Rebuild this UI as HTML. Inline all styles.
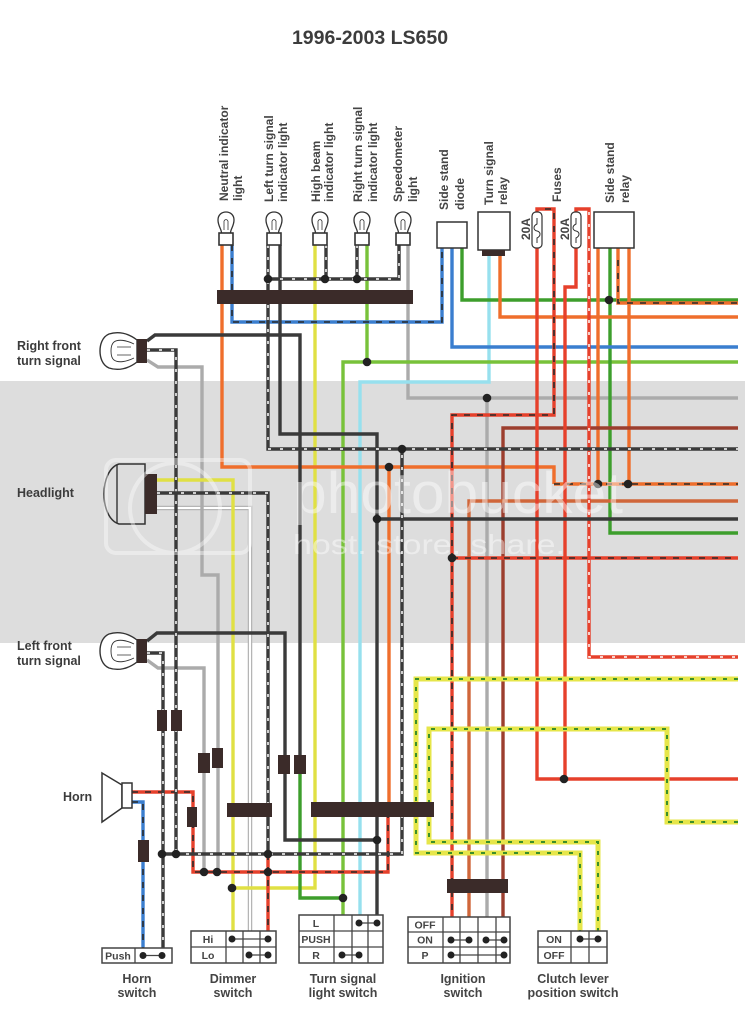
<!DOCTYPE html>
<html><head><meta charset="utf-8">
<style>
html,body{margin:0;padding:0;background:#fff;}
svg{display:block;}
.w{fill:none;stroke-width:3.4;stroke-linejoin:miter;stroke-linecap:butt}
.k{stroke:#3a3a3a}
.o{stroke:#ef6e2c}
.r{stroke:#e6402b}
.bn{stroke:#9c3e2e}
.bo{stroke:#d0663a}
.g{stroke:#ababab}
.bl{stroke:#3a7ecf}
.gn{stroke:#3d9e2c}
.yg{stroke:#78c23a}
.lb{stroke:#97e0ee}
.y{stroke:#e0e044}
.yy{fill:none;stroke:#e6e64a;stroke-width:5}
.dw{fill:none;stroke:#fff;stroke-width:1.5;stroke-dasharray:3 9}
.dk{fill:none;stroke:#2a2a2a;stroke-width:1.6;stroke-dasharray:6 7}
.dgn{fill:none;stroke:#3b8f2a;stroke-width:2;stroke-dasharray:4 7}
.t{font-family:"Liberation Sans",Arial,sans-serif;font-weight:bold;fill:#3c3c3c}
.tr{font-family:"Liberation Sans",Arial,sans-serif;font-weight:bold;fill:#444;font-size:12px}
.c{fill:#3b2b29}
.d{fill:#222}
.sw{fill:#fff;stroke:#444;stroke-width:1.5}
.ln{stroke:#444;stroke-width:1.3;fill:none}
.st{font-family:"Liberation Sans",Arial,sans-serif;font-weight:bold;fill:#444;font-size:10.5px;text-anchor:middle}
.bt{font-family:"Liberation Sans",Arial,sans-serif;font-weight:bold;fill:#444;font-size:12.5px;text-anchor:middle}
</style></head><body>
<svg width="745" height="1023" viewBox="0 0 745 1023" xmlns="http://www.w3.org/2000/svg">
<rect width="745" height="1023" fill="#fff"/>
<rect x="0" y="381" width="745" height="262" fill="#dddddd"/>

<!-- Title -->
<text x="370" y="44" text-anchor="middle" font-size="19.5" class="t" fill="#333">1996-2003 LS650</text>

<!-- ===== WIRES ===== -->
<!-- white wire -->
<polyline points="157,508 250,508 250,931" fill="none" stroke="#b5b5b5" stroke-width="4.5"/>
<polyline points="157,508 250,508 250,931" fill="none" stroke="#fff" stroke-width="2"/>

<!-- gray -->
<polyline class="w g" points="408,245 408,398 738,398"/>
<polyline class="w g" points="487,398 487,917"/>
<polyline class="w g" points="147,360 158,367 202,367 202,575 218,575 218,872"/>
<polyline class="w g" points="147,660 158,668 204,668 204,872"/>

<!-- light blue -->
<polyline class="w lb" points="489,256 489,382 360,382 360,915"/>

<!-- yellow -->
<polyline class="w y" points="315,245 315,888 232,888"/>
<polyline class="w y" points="157,480 233,480 233,931"/>

<!-- yellow-green -->
<polyline class="w yg" points="367,245 367,362"/>
<polyline class="w yg" points="343,915 343,362 738,362"/>

<!-- green -->
<polyline class="w gn" points="462,248 462,300 738,300"/>
<polyline class="w gn" points="610,248 610,533 738,533"/>
<polyline class="w gn" points="300,774 300,898 343,898"/>

<!-- blue -->
<polyline class="w bl" points="452,248 452,347 738,347"/>
<polyline class="w bl" points="232,245 232,322 442,322 442,248"/>
<polyline class="dk" points="232,245 232,322 442,322 442,248"/>
<polyline class="w bl" points="132,802 143,802 143,948"/>
<polyline class="dk" points="132,802 143,802 143,948"/>

<!-- orange -->
<polyline class="w o" points="222,245 222,467 554,467 554,484"/>
<polyline class="w o" points="554,484 738,484"/>
<polyline class="dk" points="554,484 738,484"/>
<polyline class="w o" points="500,256 500,317 738,317"/>
<polyline class="w o" points="598,248 598,484"/>
<polyline class="w o" points="629,248 629,484"/>
<polyline class="w o" points="389,467 389,803"/>
<polyline class="w o" points="618,248 618,303 738,303"/>
<polyline class="dk" points="618,260 618,303 738,303"/>

<!-- brown / brown-orange -->
<polyline class="w bn" points="503,917 503,428 738,428"/>
<polyline class="w bo" points="469,917 469,501 738,501"/>

<!-- red -->
<polyline class="w r" points="537,248 537,779 738,779"/>
<polyline class="w r" points="576,248 576,287 565,287 565,779"/>
<polyline class="w r" points="537,213 537,209 554,209 554,415 452,415 452,917"/>
<polyline class="dk" points="545,209 554,209 554,415 452,415 452,917"/>
<polyline class="w r" points="452,558 738,558"/>
<polyline class="dk" points="452,558 738,558"/>
<polyline class="w r" points="132,792 193,792 193,872 388,872 388,817"/>
<polyline class="dk" points="132,792 193,792 193,872 388,872 388,817"/>
<polyline class="w r" points="268,854 268,931"/>
<polyline class="dk" points="268,854 268,931"/>
<polyline class="w r" points="576,213 576,209 589,209 589,657 738,657"/>
<polyline class="dw" points="589,212 589,657 738,657"/>

<!-- black -->
<polyline class="w k" points="280,245 280,434 377,434 377,915"/>
<polyline class="w k" points="377,519 738,519"/>
<polyline class="w k" points="147,341 155,335 300,335 300,774"/>
<polyline class="w k" points="147,641 157,633 285,633 285,840 377,840"/>

<!-- black-white dashed -->
<polyline class="w k" points="268,245 268,449 738,449"/>
<polyline class="dw" points="268,245 268,449 738,449"/>
<polyline class="w k" points="268,279 399,279 399,245"/>
<polyline class="dw" points="268,279 399,279 399,245"/>
<polyline class="w k" points="326,245 326,279"/>
<polyline class="w k" points="357,245 357,279"/>
<polyline class="dw" points="326,245 326,279"/>
<polyline class="dw" points="357,245 357,279"/>
<polyline class="w k" points="147,350 176,350 176,854"/>
<polyline class="dw" points="147,350 176,350 176,854"/>
<polyline class="w k" points="157,493 268,493 268,854"/>
<polyline class="dw" points="157,493 268,493 268,854"/>
<polyline class="w k" points="147,653 163,653 163,948"/>
<polyline class="dw" points="147,653 163,653 163,948"/>
<polyline class="w k" points="162,854 402,854 402,449"/>
<polyline class="dw" points="162,854 402,854 402,449"/>

<!-- yellow / green dashed -->
<polyline class="yy" points="738,679 416,679 416,853 580,853 580,931"/>
<polyline class="dgn" points="738,679 416,679 416,853 580,853 580,931"/>
<polyline class="yy" points="738,822 667,822 667,729 429,729 429,842 598,842 598,931"/>
<polyline class="dgn" points="738,822 667,822 667,729 429,729 429,842 598,842 598,931"/>

<!-- ===== CONNECTORS ===== -->
<rect class="c" x="217" y="290" width="196" height="14"/>
<rect class="c" x="227" y="803" width="45" height="14"/>
<rect class="c" x="311" y="802" width="123" height="15"/>
<rect class="c" x="447" y="879" width="61" height="14"/>
<rect class="c" x="157" y="710" width="10" height="21"/>
<rect class="c" x="171" y="710" width="11" height="21"/>
<rect class="c" x="198" y="753" width="12" height="20"/>
<rect class="c" x="212" y="748" width="11" height="20"/>
<rect class="c" x="278" y="755" width="12" height="19"/>
<rect class="c" x="294" y="755" width="12" height="19"/>
<rect class="c" x="187" y="807" width="10" height="20"/>
<rect class="c" x="138" y="840" width="11" height="22"/>

<!-- ===== DOTS ===== -->
<g class="d">
<circle cx="268" cy="279" r="4.3"/><circle cx="325" cy="279" r="4.3"/><circle cx="357" cy="279" r="4.3"/>
<circle cx="367" cy="362" r="4.3"/><circle cx="487" cy="398" r="4.3"/><circle cx="402" cy="449" r="4.3"/>
<circle cx="389" cy="467" r="4.3"/><circle cx="377" cy="519" r="4.3"/><circle cx="452" cy="558" r="4.3"/>
<circle cx="609" cy="300" r="4.3"/><circle cx="598" cy="484" r="4.3"/><circle cx="628" cy="484" r="4.3"/>
<circle cx="564" cy="779" r="4.3"/><circle cx="162" cy="854" r="4.3"/><circle cx="176" cy="854" r="4.3"/>
<circle cx="268" cy="854" r="4.3"/><circle cx="204" cy="872" r="4.3"/><circle cx="217" cy="872" r="4.3"/>
<circle cx="268" cy="872" r="4.3"/><circle cx="232" cy="888" r="4.3"/><circle cx="343" cy="898" r="4.3"/>
<circle cx="377" cy="840" r="4.3"/>
</g>

<!-- ===== TOP BULBS ===== -->
<g fill="#fff" stroke="#333" stroke-width="1.3">
<g transform="translate(226,0)"><path d="M-4.5,233 C-4.5,229 -8,226 -8,220 C-8,215 -4.5,212 0,212 C4.5,212 8,215 8,220 C8,226 4.5,229 4.5,233"/><path d="M-2,230 L-2,221 M2,230 L2,221 M-2,221 Q0,218 2,221" fill="none" stroke-width="0.8"/><rect x="-7" y="233" width="14" height="12" stroke-width="1.6"/></g>
<g transform="translate(274,0)"><path d="M-4.5,233 C-4.5,229 -8,226 -8,220 C-8,215 -4.5,212 0,212 C4.5,212 8,215 8,220 C8,226 4.5,229 4.5,233"/><path d="M-2,230 L-2,221 M2,230 L2,221 M-2,221 Q0,218 2,221" fill="none" stroke-width="0.8"/><rect x="-7" y="233" width="14" height="12" stroke-width="1.6"/></g>
<g transform="translate(320,0)"><path d="M-4.5,233 C-4.5,229 -8,226 -8,220 C-8,215 -4.5,212 0,212 C4.5,212 8,215 8,220 C8,226 4.5,229 4.5,233"/><path d="M-2,230 L-2,221 M2,230 L2,221 M-2,221 Q0,218 2,221" fill="none" stroke-width="0.8"/><rect x="-7" y="233" width="14" height="12" stroke-width="1.6"/></g>
<g transform="translate(362,0)"><path d="M-4.5,233 C-4.5,229 -8,226 -8,220 C-8,215 -4.5,212 0,212 C4.5,212 8,215 8,220 C8,226 4.5,229 4.5,233"/><path d="M-2,230 L-2,221 M2,230 L2,221 M-2,221 Q0,218 2,221" fill="none" stroke-width="0.8"/><rect x="-7" y="233" width="14" height="12" stroke-width="1.6"/></g>
<g transform="translate(403,0)"><path d="M-4.5,233 C-4.5,229 -8,226 -8,220 C-8,215 -4.5,212 0,212 C4.5,212 8,215 8,220 C8,226 4.5,229 4.5,233"/><path d="M-2,230 L-2,221 M2,230 L2,221 M-2,221 Q0,218 2,221" fill="none" stroke-width="0.8"/><rect x="-7" y="233" width="14" height="12" stroke-width="1.6"/></g>
</g>

<!-- Diode, relays, fuses -->
<rect x="437" y="222" width="30" height="26" fill="#fff" stroke="#333" stroke-width="1.5"/>
<rect x="478" y="212" width="32" height="38" fill="#fff" stroke="#333" stroke-width="1.5"/>
<rect x="482" y="250" width="23" height="6" class="c"/>
<rect x="594" y="212" width="40" height="36" fill="#fff" stroke="#333" stroke-width="1.5"/>
<g fill="#fff" stroke="#333" stroke-width="1.2">
<rect x="532" y="212" width="10" height="36" rx="4"/>
<path d="M537,218 L537,224 C533,226 533,230 537,231 C541,232 541,236 537,238 L537,243" fill="none" stroke-width="1"/>
<rect x="571" y="212" width="10" height="36" rx="4"/>
<path d="M576,218 L576,224 C572,226 572,230 576,231 C580,232 580,236 576,238 L576,243" fill="none" stroke-width="1"/>
</g>

<!-- Side turn signals -->
<g stroke="#333" stroke-width="1.4" fill="#fff">
<path d="M137,340 C128,333 118,331 109,334 C102,337 100,345 100,351 C100,357 102,365 109,368 C118,371 128,369 137,362 Z"/>
<path d="M134,344 C126,340 118,339 114,342 C110,345 110,357 114,360 C118,363 126,362 134,358" fill="none" stroke-width="0.9"/>
<path d="M117,347 L131,347 M117,355 L131,355" fill="none" stroke-width="0.8"/>
<rect x="137" y="339" width="10" height="24" fill="#3b2b29" stroke="none"/>
<path d="M137,640 C128,633 118,631 109,634 C102,637 100,645 100,651 C100,657 102,665 109,668 C118,671 128,669 137,662 Z"/>
<path d="M134,644 C126,640 118,639 114,642 C110,645 110,657 114,660 C118,663 126,662 134,658" fill="none" stroke-width="0.9"/>
<path d="M117,647 L131,647 M117,655 L131,655" fill="none" stroke-width="0.8"/>
<rect x="137" y="639" width="10" height="24" fill="#3b2b29" stroke="none"/>
</g>

<!-- Headlight -->
<path d="M145,464 L119,464 C99,470 99,518 119,524 L145,524 Z" fill="none" stroke="#333" stroke-width="1.5"/>
<line x1="117" y1="465" x2="117" y2="523" stroke="#333" stroke-width="1.4"/>
<rect x="145" y="474" width="12" height="40" class="c"/>

<!-- Horn -->
<path d="M102,773 L122,785 L122,808 L102,822 Z" fill="#fff" stroke="#333" stroke-width="1.5"/>
<rect x="122" y="783" width="10" height="25" fill="#fff" stroke="#333" stroke-width="1.5"/>

<!-- ===== SWITCH TABLES ===== -->
<!-- Horn switch -->
<rect class="sw" x="102" y="948" width="70" height="15"/>
<line class="ln" x1="135" y1="948" x2="135" y2="963"/>
<text class="st" x="118" y="959.5">Push</text>
<line class="ln" x1="143" y1="955.5" x2="162" y2="955.5"/>
<circle class="d" cx="143" cy="955.5" r="3.5"/><circle class="d" cx="162" cy="955.5" r="3.5"/>

<!-- Dimmer -->
<rect class="sw" x="191" y="931" width="85" height="32"/>
<line class="ln" x1="191" y1="947" x2="276" y2="947"/>
<line class="ln" x1="226" y1="931" x2="226" y2="963"/>
<line class="ln" x1="243" y1="931" x2="243" y2="963"/>
<line class="ln" x1="260" y1="931" x2="260" y2="963"/>
<text class="st" x="208" y="943">Hi</text>
<text class="st" x="208" y="959">Lo</text>
<line class="ln" x1="232" y1="939" x2="268" y2="939"/>
<circle class="d" cx="232" cy="939" r="3.5"/><circle class="d" cx="268" cy="939" r="3.5"/>
<line class="ln" x1="249" y1="955" x2="268" y2="955"/>
<circle class="d" cx="249" cy="955" r="3.5"/><circle class="d" cx="268" cy="955" r="3.5"/>

<!-- Turn signal switch -->
<rect class="sw" x="299" y="915" width="84" height="48"/>
<line class="ln" x1="299" y1="931" x2="383" y2="931"/>
<line class="ln" x1="299" y1="947" x2="383" y2="947"/>
<line class="ln" x1="334" y1="915" x2="334" y2="963"/>
<line class="ln" x1="352" y1="915" x2="352" y2="963"/>
<line class="ln" x1="368" y1="915" x2="368" y2="963"/>
<text class="st" x="316" y="927">L</text>
<text class="st" x="316" y="943">PUSH</text>
<text class="st" x="316" y="959">R</text>
<line class="ln" x1="359" y1="923" x2="377" y2="923"/>
<circle class="d" cx="359" cy="923" r="3.5"/><circle class="d" cx="377" cy="923" r="3.5"/>
<line class="ln" x1="342" y1="955" x2="359" y2="955"/>
<circle class="d" cx="342" cy="955" r="3.5"/><circle class="d" cx="359" cy="955" r="3.5"/>

<!-- Ignition switch -->
<rect class="sw" x="408" y="917" width="102" height="46"/>
<line class="ln" x1="408" y1="932" x2="510" y2="932"/>
<line class="ln" x1="408" y1="947" x2="510" y2="947"/>
<line class="ln" x1="443" y1="917" x2="443" y2="963"/>
<line class="ln" x1="460" y1="917" x2="460" y2="963"/>
<line class="ln" x1="478" y1="917" x2="478" y2="963"/>
<line class="ln" x1="496" y1="917" x2="496" y2="963"/>
<text class="st" x="425" y="928.5">OFF</text>
<text class="st" x="425" y="943.5">ON</text>
<text class="st" x="425" y="959">P</text>
<line class="ln" x1="451" y1="940" x2="469" y2="940"/>
<line class="ln" x1="486" y1="940" x2="504" y2="940"/>
<circle class="d" cx="451" cy="940" r="3.5"/><circle class="d" cx="469" cy="940" r="3.5"/>
<circle class="d" cx="486" cy="940" r="3.5"/><circle class="d" cx="504" cy="940" r="3.5"/>
<line class="ln" x1="451" y1="955" x2="504" y2="955"/>
<circle class="d" cx="451" cy="955" r="3.5"/><circle class="d" cx="504" cy="955" r="3.5"/>

<!-- Clutch switch -->
<rect class="sw" x="538" y="931" width="69" height="32"/>
<line class="ln" x1="538" y1="947" x2="607" y2="947"/>
<line class="ln" x1="571" y1="931" x2="571" y2="963"/>
<line class="ln" x1="589" y1="931" x2="589" y2="963"/>
<text class="st" x="554" y="943">ON</text>
<text class="st" x="554" y="959">OFF</text>
<line class="ln" x1="580" y1="939" x2="598" y2="939"/>
<circle class="d" cx="580" cy="939" r="3.5"/><circle class="d" cx="598" cy="939" r="3.5"/>

<!-- Bottom labels -->
<text class="bt" x="137" y="983">Horn</text><text class="bt" x="137" y="997">switch</text>
<text class="bt" x="233" y="983">Dimmer</text><text class="bt" x="233" y="997">switch</text>
<text class="bt" x="343" y="983">Turn signal</text><text class="bt" x="343" y="997">light switch</text>
<text class="bt" x="463" y="983">Ignition</text><text class="bt" x="463" y="997">switch</text>
<text class="bt" x="573" y="983">Clutch lever</text><text class="bt" x="573" y="997">position switch</text>

<!-- Left labels -->
<text class="t" font-size="12.5" x="17" y="350">Right front</text>
<text class="t" font-size="12.5" x="17" y="365">turn signal</text>
<text class="t" font-size="12.5" x="17" y="497">Headlight</text>
<text class="t" font-size="12.5" x="17" y="650">Left front</text>
<text class="t" font-size="12.5" x="17" y="665">turn signal</text>
<text class="t" font-size="12.5" x="63" y="801" fill="#444">Horn</text>

<!-- Top rotated labels -->
<text class="tr" transform="translate(228,201) rotate(-90)">Neutral indicator</text>
<text class="tr" transform="translate(242,201) rotate(-90)">light</text>
<text class="tr" transform="translate(273,202) rotate(-90)">Left turn signal</text>
<text class="tr" transform="translate(287,202) rotate(-90)">indicator light</text>
<text class="tr" transform="translate(320,202) rotate(-90)">High beam</text>
<text class="tr" transform="translate(333,202) rotate(-90)">indicator light</text>
<text class="tr" transform="translate(362,202) rotate(-90)">Right turn signal</text>
<text class="tr" transform="translate(377,202) rotate(-90)">indicator light</text>
<text class="tr" transform="translate(402,202) rotate(-90)">Speedometer</text>
<text class="tr" transform="translate(417,202) rotate(-90)">light</text>
<text class="tr" transform="translate(448,210) rotate(-90)">Side stand</text>
<text class="tr" transform="translate(464,210) rotate(-90)">diode</text>
<text class="tr" transform="translate(493,205) rotate(-90)">Turn signal</text>
<text class="tr" transform="translate(507,205) rotate(-90)">relay</text>
<text class="tr" transform="translate(561,202) rotate(-90)">Fuses</text>
<text class="tr" transform="translate(614,203) rotate(-90)">Side stand</text>
<text class="tr" transform="translate(629,203) rotate(-90)">relay</text>
<text class="tr" font-size="10" transform="translate(530,240) rotate(-90)">20A</text>
<text class="tr" font-size="10" transform="translate(569,240) rotate(-90)">20A</text>

<!-- Watermark overlay -->
<g opacity="0.4" fill="none" stroke="#fff" stroke-width="4">
<rect x="106" y="460" width="144" height="93" rx="10"/>
<circle cx="175" cy="508" r="45"/>
</g>
<text x="293" y="513" font-family="'Liberation Sans',sans-serif" font-size="58" fill="#fff" opacity="0.45" textLength="330" lengthAdjust="spacingAndGlyphs">photobucket</text>
<text x="293" y="554" font-family="'Liberation Sans',sans-serif" font-size="28" fill="#fff" opacity="0.45" textLength="272" lengthAdjust="spacingAndGlyphs">host. store. share.</text>
</svg>
</body></html>
